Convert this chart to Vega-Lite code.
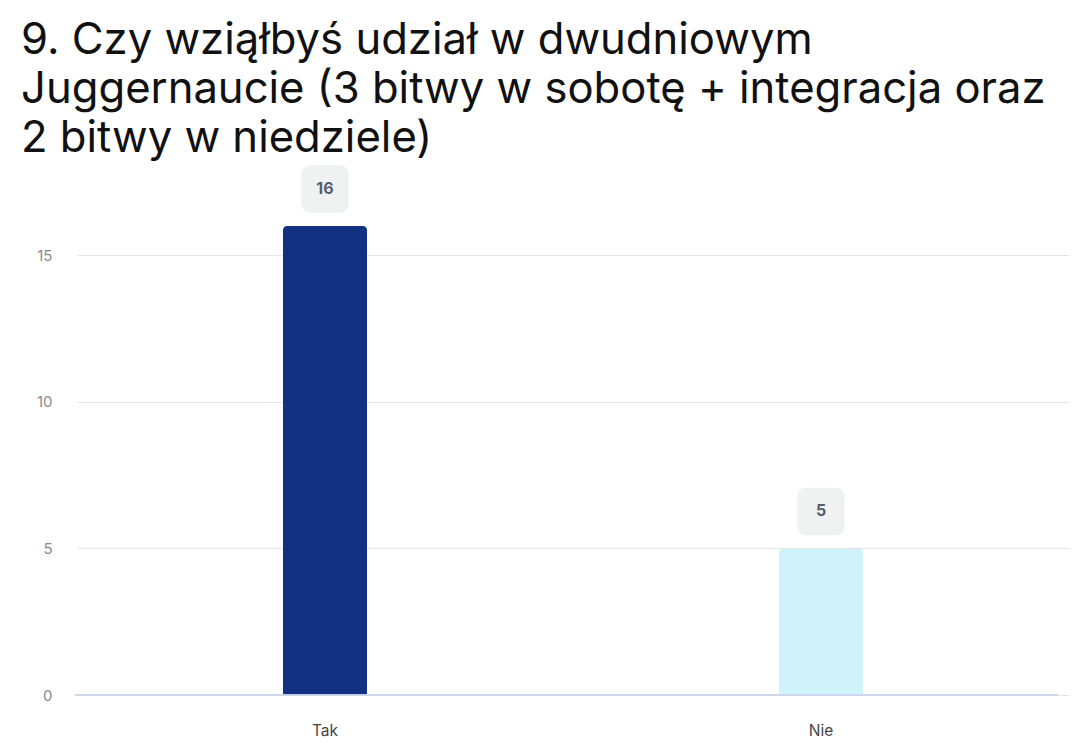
{
  "$schema": "https://vega.github.io/schema/vega-lite/v6.json",
  "autosize": {"type": "none"},
  "width": 983,
  "height": 469,
  "padding": {"left": 75, "top": 226, "right": 34, "bottom": 57},
  "background": "#ffffff",
  "config": {
    "font": "Inter",
    "view": {"stroke": null}
  },
  "title": {
    "text": ["9. Czy wziąłbyś udział w dwudniowym", "Juggernaucie (3 bitwy w sobotę + integracja oraz", "2 bitwy w niedziele)"],
    "anchor": "start",
    "frame": "group",
    "dx": -54,
    "fontSize": 43.6,
    "fontWeight": "normal",
    "lineHeight": 49,
    "color": "#111111",
    "font": "Inter",
    "offset": 4
  },
  "data": {
    "values": [
      {"odpowiedz": "Tak", "liczba": 16},
      {"odpowiedz": "Nie", "liczba": 5}
    ]
  },
  "encoding": {
    "x": {
      "field": "odpowiedz",
      "type": "nominal",
      "sort": null,
      "scale": {"range": [2, 994], "paddingInner": 0, "paddingOuter": 0},
      "axis": {
        "title": null,
        "domain": false,
        "ticks": false,
        "labelAngle": 0,
        "labelFontSize": 15.5,
        "labelColor": "#444444",
        "labelPadding": 28,
        "labelFont": "Inter"
      }
    },
    "y": {
      "field": "liczba",
      "type": "quantitative",
      "scale": {"domain": [0, 16], "nice": false},
      "axis": {
        "title": null,
        "values": [0, 5, 10, 15],
        "domain": false,
        "ticks": false,
        "grid": true,
        "gridColor": "#e3e5e8",
        "gridWidth": 1,
        "labelFontSize": 15,
        "labelColor": "#8a8a8a",
        "labelPadding": 23,
        "labelFont": "Inter"
      }
    }
  },
  "layer": [
    {
      "mark": {"type": "bar", "size": 84, "cornerRadiusTopLeft": 4, "cornerRadiusTopRight": 4},
      "encoding": {
        "color": {
          "field": "odpowiedz",
          "type": "nominal",
          "scale": {"domain": ["Tak", "Nie"], "range": ["#133183", "#d0f2fa"]},
          "legend": null
        }
      }
    },
    {
      "mark": {"type": "rule", "color": "#cbd6ea", "strokeWidth": 1.5},
      "encoding": {"y": {"datum": 0}, "x": null}
    },
    {
      "mark": {
        "type": "point",
        "filled": true,
        "size": 2256,
        "shape": "M -0.6 -1 L 0.6 -1 Q 1 -1 1 -0.6 L 1 0.6 Q 1 1 0.6 1 L -0.6 1 Q -1 1 -1 0.6 L -1 -0.6 Q -1 -1 -0.6 -1 Z",
        "color": "#f0f2f2",
        "opacity": 1,
        "yOffset": -37
      }
    },
    {
      "mark": {
        "type": "text",
        "fontSize": 16,
        "fontWeight": "bold",
        "color": "#555f6d",
        "baseline": "middle",
        "align": "center",
        "yOffset": -37
      },
      "encoding": {"text": {"field": "liczba", "type": "quantitative"}}
    }
  ]
}
